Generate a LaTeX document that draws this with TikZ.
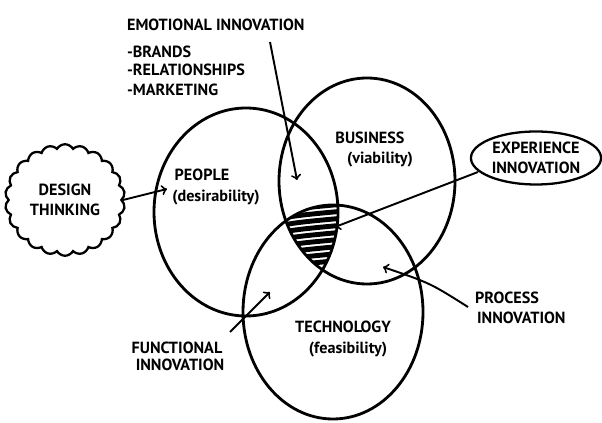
\documentclass[tikz,border=0pt]{standalone}
\usepackage{fontspec}
\setmainfont{PT Sans}
\usetikzlibrary{arrows,shapes,positioning,calc}

\tikzset{
  ring/.style={line width=1.6pt},
  pointer/.style={->,line width=1.1pt},
  hand/.style={font=\fontsize{9.2}{11}\selectfont\bfseries, inner sep=1pt}
}

\begin{document}
\begin{tikzpicture}[scale=1.0]
\useasboundingbox (0,0) rectangle (12.04,8.46);
% The three circles
  \draw[ring] (4.92,4.22) ellipse (1.84 and 2.08);
  \draw[ring] (7.34,4.84) ellipse (1.76 and 2.06);
  \draw[ring] (6.66,2.22) ellipse (1.80 and 2.14);
% Sweet spot
\begin{scope}
  \clip (4.92,4.22) ellipse (1.84 and 2.08);
  \clip (7.34,4.84) ellipse (1.76 and 2.06);
  \clip (6.66,2.22) ellipse (1.80 and 2.14);
  \foreach \y in {3.05,3.19,...,4.50}
    \draw[line width=2.8pt] (5.3,\y) .. controls (5.9,\y+0.12) .. (7.0,\y+0.22);
\end{scope}
%
% Labels in the circles
  \node[hand] (people) at (4.04,4.96) {PEOPLE};
  \node[hand] (desir) at (4.32,4.50) {(desirability)};
  \node[hand] (business) at (7.40,5.70) {BUSINESS};
  \node[hand] (viab) at (7.60,5.26) {(viability)};
  \node[hand] (tech) at (6.86,1.92) {TECHNOLOGY};
  \node[hand] (feas) at (6.96,1.46) {(feasibility)};
%
% Emotional innovation
  \node[hand,anchor=west] (emotional) at (2.50,7.96) {EMOTIONAL INNOVATION};
  \node[hand,anchor=west] (brands) at (2.50,7.42) {-BRANDS};
  \node[hand,anchor=west] (relations) at (2.50,7.06) {-RELATIONSHIPS};
  \node[hand,anchor=west] (marketing) at (2.50,6.66) {-MARKETING};
  \coordinate (emostart) at (5.40,7.62);
  \coordinate (emoend) at (5.94,4.86);
  \draw[pointer] (emostart) -- (emoend);
%
% Design thinking
  \node[cloud, draw, line width=1.3pt, cloud puffs=22, cloud puff arc=120,
        minimum width=2.4cm, minimum height=1.55cm, hand, align=center]
        (design) at (1.30,4.46) {DESIGN\\THINKING};
  \coordinate (ppltip) at (3.34,4.68);
  \draw[pointer] (design.east) -- (ppltip);
%
% Experience innovation
  \node[ellipse, draw, line width=1.3pt, minimum width=2.56cm, minimum height=1.06cm,
        hand, align=center] (experience) at (10.72,5.30) {EXPERIENCE\\INNOVATION};
  \coordinate (expstart) at (9.56,5.02);
  \coordinate (expend) at (6.70,3.92);
  \draw[pointer] (expstart) -- (expend);
%
% Process innovation
  \node[hand,anchor=west] (process) at (9.46,2.50) {PROCESS};
  \node[hand,anchor=west] (procinno) at (9.50,2.10) {INNOVATION};
  \coordinate (procstart) at (9.36,2.32);
  \coordinate (procend) at (7.66,3.12);
  \draw[pointer] (procstart) .. controls (8.6,2.8) .. (procend);
%
% Functional innovation
  \node[hand] (functional) at (3.54,1.50) {FUNCTIONAL};
  \node[hand] (funcinno) at (3.60,1.16) {INNOVATION};
  \coordinate (funcstart) at (4.60,1.82);
  \coordinate (funcend) at (5.40,2.62);
  \draw[pointer] (funcstart) -- (funcend);
\end{tikzpicture}
\end{document}
